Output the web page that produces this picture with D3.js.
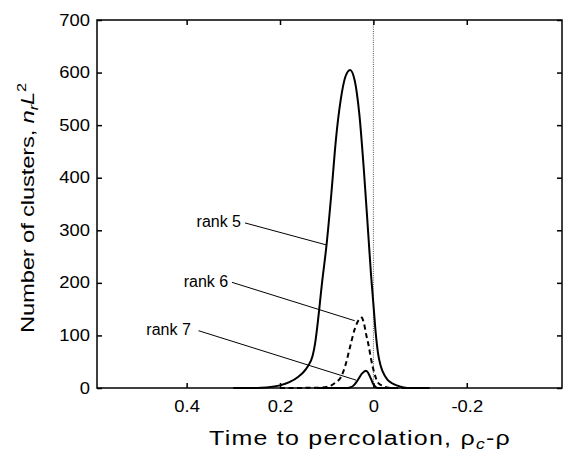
<!DOCTYPE html>
<html>
<head>
<meta charset="utf-8">
<script src="https://cdn.jsdelivr.net/npm/d3@7"></script>
<style>
  body { margin: 0; background: #fff; }
  svg { display: block; font-family: "Liberation Sans", Arial, Helvetica, sans-serif; }
</style>
</head>
<body>
<svg width="568" height="452"></svg>
<script>
var xTicks = [0.4, 0.2, 0, -0.2];
var yTicks = [0, 100, 200, 300, 400, 500, 600, 700];

// rank 5 (solid, big peak)
var rank5X = [0.30, 0.26, 0.24, 0.22, 0.20, 0.18, 0.16, 0.15, 0.14, 0.13, 0.125, 0.12, 0.11, 0.10, 0.09, 0.08, 0.07, 0.06, 0.05, 0.04, 0.03, 0.02, 0.01, 0.005, 0.0, -0.005, -0.01, -0.015, -0.02, -0.03, -0.04, -0.05, -0.065, -0.08, -0.12];
var rank5Y = [0, 0, 0.5, 2, 5, 11, 22, 30, 42, 62, 84, 118, 200, 275, 370, 475, 548, 592, 605, 585, 520, 410, 280, 215, 160, 105, 66, 44, 31, 16, 9, 5, 1, 0, 0];

// rank 6 (dashed)
var rank6X = [0.20, 0.12, 0.10, 0.09, 0.08, 0.07, 0.06, 0.05, 0.04, 0.03, 0.025, 0.02, 0.015, 0.01, 0.005, 0.0, -0.005, -0.01, -0.02, -0.03, -0.04, -0.12];
var rank6Y = [0, 0.5, 2, 5, 11, 20, 43, 78, 112, 131, 134, 122, 100, 80, 55, 35, 20, 10, 4, 1, 0, 0];

// rank 7 (solid, small)
var rank7X = [0.12, 0.06, 0.05, 0.04, 0.035, 0.03, 0.025, 0.02, 0.016, 0.012, 0.008, 0.004, 0.0, -0.005, -0.01, -0.05];
var rank7Y = [0, 0, 1, 7, 13, 20, 27, 31, 33, 30, 23, 15, 7, 2, 0, 0];

// annotations: label end point and leader line, in data units
var labelText = ["rank 5", "rank 6", "rank 7"];
var labelX = [0.2835, 0.311, 0.391];
var labelY = [316, 202, 111];
var leadX1 = [0.275, 0.303, 0.3746];
var leadY1 = [314, 201, 109];
var leadX2 = [0.100, 0.040, 0.037];
var leadY2 = [272, 128, 15];

var svg = d3.select("svg"),
  margin = {top: 20, right: 6, bottom: 64, left: 97},
  width = +svg.attr("width") - margin.left - margin.right,
  height = +svg.attr("height") - margin.top - margin.bottom;

svg.append("rect").attr("width", 568).attr("height", 452).attr("fill", "#fff");

var x = d3.scaleLinear().domain([0.592, -0.404]).range([0, width]),
  y = d3.scaleLinear().domain([0, 700]).range([height, 0]);

var g = svg.append("g")
  .attr("transform", "translate(" + margin.left + "," + margin.top + ")");

// dotted line at percolation
g.append("line")
  .attr("x1", x(0)).attr("x2", x(0))
  .attr("y1", y(700)).attr("y2", y(0))
  .attr("stroke", "#555")
  .attr("stroke-width", 1)
  .attr("stroke-dasharray", "1,1.2");

var line = d3.line()
  .x(function(d) { return x(d[0]); })
  .y(function(d) { return y(d[1]); })
  .curve(d3.curveMonotoneX);

function pairs(xs, ys) {
  return xs.map(function(v, i) { return [v, ys[i]]; });
}

g.append("path").datum(pairs(rank5X, rank5Y))
  .attr("d", line).attr("fill", "none")
  .attr("stroke", "#000").attr("stroke-width", 2);

g.append("path").datum(pairs(rank6X, rank6Y))
  .attr("d", line).attr("fill", "none")
  .attr("stroke", "#000").attr("stroke-width", 2)
  .attr("stroke-dasharray", "5,3.5");

g.append("path").datum(pairs(rank7X, rank7Y))
  .attr("d", line).attr("fill", "none")
  .attr("stroke", "#000").attr("stroke-width", 2);

// leader lines and labels
labelText.forEach(function(t, i) {
  g.append("line")
    .attr("x1", x(leadX1[i])).attr("y1", y(leadY1[i]))
    .attr("x2", x(leadX2[i])).attr("y2", y(leadY2[i]))
    .attr("stroke", "#000").attr("stroke-width", 1);
  g.append("text")
    .attr("x", x(labelX[i])).attr("y", y(labelY[i]))
    .attr("dy", "0.35em")
    .attr("text-anchor", "end")
    .attr("font-size", 16)
    .attr("fill", "#000")
    .text(t);
});

// axes, ticks pointing inward
var fmt = function(d) { return String(d); };

var xAxis = g.append("g")
  .attr("transform", "translate(0," + height + ")")
  .call(d3.axisBottom(x).tickValues(xTicks).tickSizeInner(-5).tickSizeOuter(0).tickPadding(13).tickFormat(fmt));
g.append("g")
  .call(d3.axisTop(x).tickValues(xTicks).tickSizeInner(-5).tickSizeOuter(0).tickFormat(""));
var yAxis = g.append("g")
  .call(d3.axisLeft(y).tickValues(yTicks).tickSizeInner(-5).tickSizeOuter(0).tickPadding(7).tickFormat(fmt));
g.append("g")
  .attr("transform", "translate(" + width + ",0)")
  .call(d3.axisRight(y).tickValues(yTicks).tickSizeInner(-5).tickSizeOuter(0).tickFormat(""));

g.selectAll(".domain").remove();
g.selectAll(".tick line").attr("stroke", "#000").attr("stroke-width", 1.5);
g.selectAll(".tick text").attr("font-size", 16).attr("font-family", null).attr("fill", "#000");
xAxis.selectAll(".tick text").attr("transform", "scale(1.15,1)");
yAxis.selectAll(".tick text").attr("x", -7 / 1.15).attr("transform", "scale(1.15,1)");

g.append("rect")
  .attr("width", width).attr("height", height)
  .attr("fill", "none").attr("stroke", "#000").attr("stroke-width", 1.5);

// fit a title to a target width: mild stretch plus letter spacing
function fitTitle(sel, target, base) {
  var sx = 1.25;
  var w = sel.node().getBBox().width;
  var n = sel.text().length;
  var ls = (target / sx - w) / n;
  sel.attr("letter-spacing", ls);
  sel.attr("transform", base + " scale(" + sx + ",1)");
}

// axis titles
var xt = svg.append("text")
  .attr("text-anchor", "middle")
  .attr("font-size", 20)
  .attr("fill", "#000");
xt.append("tspan").text("Time to percolation, \u03c1");
xt.append("tspan").attr("font-style", "italic").attr("font-size", 14).attr("dy", 4).text("c");
xt.append("tspan").attr("dy", -4).text("-\u03c1");
fitTitle(xt, 302, "translate(360,445)");

var yt = svg.append("text")
  .attr("text-anchor", "middle")
  .attr("font-size", 19)
  .attr("fill", "#000");
yt.append("tspan").text("Number of clusters, ");
yt.append("tspan").attr("font-style", "italic").text("n");
yt.append("tspan").attr("font-style", "italic").attr("font-size", 13).attr("dy", 4).text("r");
yt.append("tspan").attr("font-style", "italic").attr("dy", -4).text("L");
yt.append("tspan").attr("font-size", 13).attr("dy", -8).text("2");
fitTitle(yt, 250, "translate(33.5,208) rotate(-90)");
</script>
</body>
</html>
